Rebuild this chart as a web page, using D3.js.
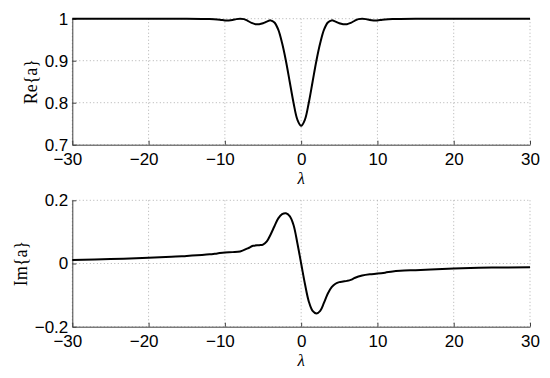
<!DOCTYPE html>
<html>
<head>
<meta charset="utf-8">
<script src="https://cdn.jsdelivr.net/npm/d3@7"></script>
<style>
  html, body { margin: 0; padding: 0; background: #fff; }
  svg { display: block; }
</style>
</head>
<body>
<svg id="chart" width="550" height="378"></svg>
<script>
// ---- data ----
const reLambda = [-30, -20, -15, -13, -12, -11, -10.5, -10, -9.5, -9, -8.5, -8, -7.5, -7, -6.5, -6, -5.5, -5, -4.5, -4, -3.5, -3, -2.5, -2, -1.5, -1, -0.5, 0,
                  0.5, 1, 1.5, 2, 2.5, 3, 3.5, 4, 4.5, 5, 5.5, 6, 6.5, 7, 7.5, 8, 8.5, 9, 9.5, 10, 10.5, 11, 12, 13, 15, 20, 30];
const reValues = [1.0, 1.0, 1.0, 0.9995, 0.999, 0.998, 0.997, 0.996, 0.996, 0.997, 0.999, 1.0, 0.999, 0.995, 0.990, 0.987, 0.987, 0.989, 0.993, 0.996, 0.991, 0.974, 0.942, 0.900, 0.850, 0.800, 0.760, 0.745,
                  0.760, 0.800, 0.850, 0.900, 0.942, 0.974, 0.991, 0.996, 0.993, 0.989, 0.987, 0.987, 0.990, 0.995, 0.999, 1.0, 0.999, 0.997, 0.996, 0.996, 0.997, 0.998, 0.999, 0.9995, 1.0, 1.0, 1.0];

const imLambda = [-30, -25, -20, -17, -15, -13, -12, -11, -10, -9, -8, -7, -6.3, -5.5, -5, -4.5, -4, -3.5, -3, -2.5, -2, -1.5, -1, -0.5, 0,
                  0.5, 1, 1.5, 2, 2.5, 3, 3.5, 4, 4.5, 5, 5.5, 6, 6.5, 7, 8, 9, 10, 11, 12, 13, 15, 17, 20, 25, 30];
const imValues = [0.011, 0.014, 0.018, 0.021, 0.024, 0.027, 0.029, 0.032, 0.035, 0.036, 0.038, 0.048, 0.056, 0.058, 0.060, 0.070, 0.092, 0.118, 0.143, 0.156, 0.159, 0.150, 0.122, 0.065, 0.0,
                  -0.065, -0.120, -0.150, -0.158, -0.150, -0.124, -0.095, -0.075, -0.064, -0.059, -0.057, -0.055, -0.052, -0.046, -0.038, -0.034, -0.032, -0.029, -0.025, -0.023, -0.021, -0.019, -0.016, -0.013, -0.012];

const xTicks = [-30, -20, -10, 0, 10, 20, 30];
const reTicks = [0.7, 0.8, 0.9, 1];
const imTicks = [-0.2, 0, 0.2];

// ---- layout ----
const svg = d3.select("#chart");
const left = 72.3, right = 530;
const panels = [
  { top: 18.7, bottom: 144.7, domain: [0.7, 1], ticks: reTicks, xs: reLambda, ys: reValues, ylabel: "Re{a}", ylabelX: 37 },
  { top: 200.3, bottom: 326.7, domain: [-0.2, 0.2], ticks: imTicks, xs: imLambda, ys: imValues, ylabel: "Im{a}", ylabelX: 27 }
];

const fmt = d => {
  if (d === 0) return "0";
  if (d === 1) return "1";
  const s = Math.abs(d).toString();
  return (d < 0 ? "\u2212" : "") + s;
};
const sans = "Liberation Sans, Arial, Helvetica, sans-serif";
const serif = "Liberation Serif, Times New Roman, serif";

panels.forEach(p => {
  const x = d3.scaleLinear().domain([-30, 30]).range([left, right]);
  const y = d3.scaleLinear().domain(p.domain).range([p.bottom, p.top]);
  const g = svg.append("g");

  // grid
  g.selectAll(".vg").data(xTicks).join("line")
    .attr("x1", d => x(d)).attr("x2", d => x(d))
    .attr("y1", p.top).attr("y2", p.bottom)
    .attr("stroke", "#b0b0b0").attr("stroke-width", 1)
    .attr("stroke-dasharray", "1,2.5");
  g.selectAll(".hg").data(p.ticks).join("line")
    .attr("x1", left).attr("x2", right)
    .attr("y1", d => y(d)).attr("y2", d => y(d))
    .attr("stroke", "#b0b0b0").attr("stroke-width", 1)
    .attr("stroke-dasharray", "1,2.5");

  // x axis
  const xAxis = d3.axisBottom(x).tickValues(xTicks).tickSizeInner(-4).tickSizeOuter(0).tickPadding(8).tickFormat(fmt);
  const xa = g.append("g").attr("transform", `translate(0,${p.bottom})`).call(xAxis);
  xa.attr("font-family", sans);
  xa.select(".domain").attr("stroke", "#404040");
  xa.selectAll(".tick line").attr("stroke", "#404040");
  xa.selectAll("text").attr("fill", "#000").attr("font-family", sans).attr("font-size", 17)
    .attr("dy", "0.71em")
    .each(function() {
      // centre the digits on the tick, letting a minus sign hang to the left
      const t = this.textContent;
      if (t.startsWith("\u2212")) {
        const total = this.getComputedTextLength();
        const digits = this.getSubStringLength(1, t.length - 1);
        d3.select(this).attr("text-anchor", "start").attr("x", -(total - digits) - digits / 2);
      }
    });

  // y axis
  const yAxis = d3.axisLeft(y).tickValues(p.ticks).tickSizeInner(-4).tickSizeOuter(0).tickPadding(4).tickFormat(fmt);
  const ya = g.append("g").attr("transform", `translate(${left},0)`).call(yAxis);
  ya.attr("font-family", sans);
  ya.select(".domain").attr("stroke", "#404040");
  ya.selectAll(".tick line").attr("stroke", "#404040");
  ya.selectAll("text").attr("fill", "#000").attr("font-family", sans).attr("font-size", 17);

  // curve
  const pts = p.xs.map((v, i) => [v, p.ys[i]]);
  const line = d3.line().x(d => x(d[0])).y(d => y(d[1])).curve(d3.curveCatmullRom.alpha(0.5));
  g.append("path").datum(pts).attr("d", line)
    .attr("fill", "none").attr("stroke", "#000").attr("stroke-width", 2).attr("stroke-linejoin", "round");

  // x label
  g.append("text").attr("x", x(0)).attr("y", p.bottom + 39.5)
    .attr("text-anchor", "middle").attr("font-family", serif)
    .attr("font-style", "italic").attr("font-size", 17).text("\u03bb");

  // y label
  g.append("text")
    .attr("transform", `translate(${p.ylabelX},${(p.top + p.bottom) / 2}) rotate(-90)`)
    .attr("text-anchor", "middle").attr("font-family", serif)
    .attr("font-size", 18).text(p.ylabel);
});
</script>
</body>
</html>
